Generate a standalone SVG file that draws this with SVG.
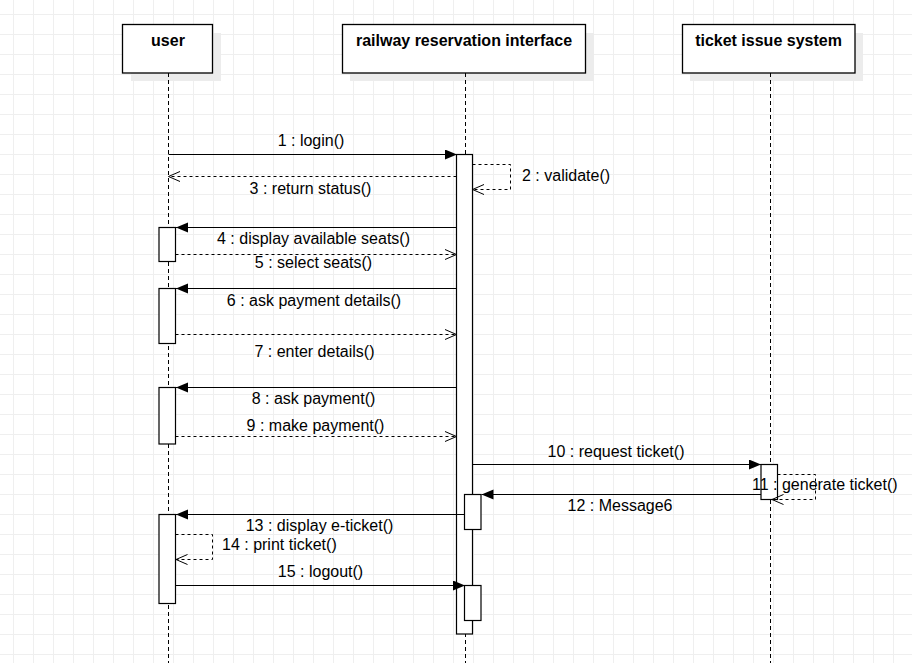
<svg xmlns="http://www.w3.org/2000/svg" width="912" height="663" viewBox="0 0 912 663">
  <style>
    .lbl { font-family: "Liberation Sans", Arial, sans-serif; font-size: 16px; fill: #000; }
    .title { font-family: "Liberation Sans", Arial, sans-serif; font-size: 16px; font-weight: bold; fill: #000; text-anchor: middle; }
    .mid { text-anchor: middle; }
    .head { fill: #fff; stroke: #000; stroke-width: 1.3; }
    .shadow { fill: #ececec; }
    .life { stroke: #000; stroke-width: 1; stroke-dasharray: 4,3; fill: none; }
    .act { fill: #fff; stroke: #000; stroke-width: 1.2; }
    .call { stroke: #000; stroke-width: 1; fill: none; marker-end: url(#filled); }
    .ret { stroke: #000; stroke-width: 1; fill: none; stroke-dasharray: 3,3; marker-end: url(#open); }
  </style>
  <defs>
    <pattern id="grid" patternUnits="userSpaceOnUse" x="13" y="14" width="20" height="20">
      <path d="M0.5 0 V20 M0 0.5 H20" stroke="#efefef" stroke-width="1" fill="none"/>
    </pattern>
    <marker id="filled" markerUnits="userSpaceOnUse" markerWidth="13" markerHeight="11" refX="12" refY="5" orient="auto">
      <path d="M0,0 L12,5 L0,10 z" fill="#000" stroke="none"/>
    </marker>
    <marker id="open" markerUnits="userSpaceOnUse" markerWidth="14" markerHeight="12" refX="12" refY="5.5" orient="auto">
      <path d="M0.5,0.5 L12,5.5 L0.5,10.5" fill="none" stroke="#000" stroke-width="1" stroke-dasharray="none"/>
    </marker>
  </defs>

  <!-- background grid -->
  <rect width="912" height="663" fill="#fff"/>
  <rect width="912" height="663" fill="url(#grid)"/>

  <!-- lifelines -->
  <g id="user">
    <rect class="shadow" x="131" y="33" width="90" height="48"/>
    <line class="life" x1="168.5" y1="73" x2="168.5" y2="663"/>
    <rect class="head" x="122.5" y="24.5" width="90" height="48.5"/>
    <text class="title" x="168" y="45.5">user</text>
  </g>
  <g id="railway">
    <rect class="shadow" x="350" y="33" width="244" height="48"/>
    <line class="life" x1="465.5" y1="73" x2="465.5" y2="663"/>
    <rect class="head" x="342.5" y="24.5" width="243" height="48.5"/>
    <text class="title" x="464" y="45.5">railway reservation interface</text>
  </g>
  <g id="ticket">
    <rect class="shadow" x="690" y="33" width="173" height="48"/>
    <line class="life" x1="770.5" y1="73" x2="770.5" y2="663"/>
    <rect class="head" x="682.5" y="24.5" width="172.5" height="48.5"/>
    <text class="title" x="768.5" y="45.5">ticket issue system</text>
  </g>

  <!-- activation bars -->
  <g id="activations">
    <rect class="act" x="456.5" y="154.5" width="16" height="479.5"/>
    <rect class="act" x="464.5" y="494.5" width="16.5" height="35"/>
    <rect class="act" x="464.5" y="585.5" width="16.5" height="35"/>
    <rect class="act" x="159" y="227.5" width="16.5" height="34"/>
    <rect class="act" x="159" y="288.5" width="16.5" height="55"/>
    <rect class="act" x="159" y="387.5" width="16.5" height="56.5"/>
    <rect class="act" x="159" y="514.5" width="16.5" height="89"/>
    <rect class="act" x="761" y="464.5" width="16.5" height="35"/>
  </g>

  <!-- messages -->
  <g id="connectors">
    <line class="call" x1="168.5" y1="154.5" x2="457" y2="154.5"/>
    <path class="ret" d="M472.5,164.5 H510.5 V189.5 H472.5"/>
    <line class="ret" x1="456.5" y1="176.5" x2="168.5" y2="176.5"/>
    <line class="call" x1="456.5" y1="227.5" x2="176" y2="227.5"/>
    <line class="ret" x1="175.5" y1="254.5" x2="456.5" y2="254.5"/>
    <line class="call" x1="456.5" y1="288.5" x2="176" y2="288.5"/>
    <line class="ret" x1="175.5" y1="334.5" x2="456.5" y2="334.5"/>
    <line class="call" x1="456.5" y1="387.5" x2="176" y2="387.5"/>
    <line class="ret" x1="175.5" y1="436.5" x2="456.5" y2="436.5"/>
    <line class="call" x1="472.5" y1="464.5" x2="761" y2="464.5"/>
    <path class="ret" d="M777.5,474.5 H815.5 V499.5 H772"/>
    <line class="call" x1="761" y1="494.5" x2="481.5" y2="494.5"/>
    <line class="call" x1="464.5" y1="514.5" x2="176" y2="514.5"/>
    <path class="ret" d="M175.5,534.5 H212.5 V559.5 H176"/>
    <line class="call" x1="175.5" y1="585.5" x2="465" y2="585.5"/>
  </g>

  <!-- message labels -->
  <g id="labels">
    <text class="lbl mid" x="311" y="146">1 : login()</text>
    <text class="lbl" x="522" y="181">2 : validate()</text>
    <text class="lbl mid" x="310.5" y="194">3 : return status()</text>
    <text class="lbl mid" x="313.5" y="244">4 : display available seats()</text>
    <text class="lbl mid" x="313.5" y="268">5 : select seats()</text>
    <text class="lbl mid" x="314" y="305.5">6 : ask payment details()</text>
    <text class="lbl mid" x="314.5" y="356.5">7 : enter details()</text>
    <text class="lbl mid" x="313.5" y="404">8 : ask payment()</text>
    <text class="lbl mid" x="315.5" y="430.5">9 : make payment()</text>
    <text class="lbl mid" x="616" y="457">10 : request ticket()</text>
    <text class="lbl" x="752" y="490">11 : generate ticket()</text>
    <text class="lbl mid" x="620" y="511">12 : Message6</text>
    <text class="lbl mid" x="319.5" y="531">13 : display e-ticket()</text>
    <text class="lbl" x="222" y="550">14 : print ticket()</text>
    <text class="lbl mid" x="320.5" y="577">15 : logout()</text>
  </g>
</svg>
